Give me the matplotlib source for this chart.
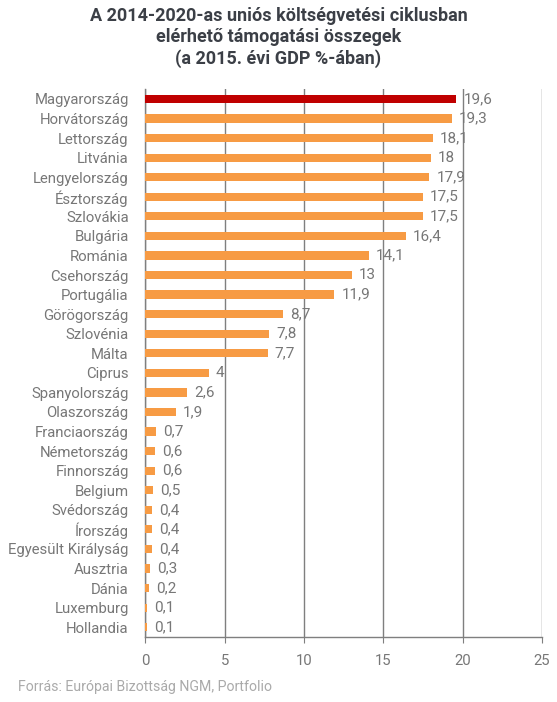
import matplotlib
matplotlib.use("Agg")
import matplotlib.pyplot as plt

orszagok = ["Magyarország", "Horvátország", "Lettország", "Litvánia", "Lengyelország",
            "Észtország", "Szlovákia", "Bulgária", "Románia", "Csehország", "Portugália",
            "Görögország", "Szlovénia", "Málta", "Ciprus", "Spanyolország", "Olaszország",
            "Franciaország", "Németország", "Finnország", "Belgium", "Svédország",
            "Írország", "Egyesült Királyság", "Ausztria", "Dánia", "Luxemburg", "Hollandia"]
ertekek = [19.6, 19.3, 18.1, 18, 17.9, 17.5, 17.5, 16.4, 14.1, 13, 11.9, 8.7, 7.8, 7.7,
           4, 2.6, 1.9, 0.7, 0.6, 0.6, 0.5, 0.4, 0.4, 0.4, 0.3, 0.2, 0.1, 0.1]
x_ticks = [0, 5, 10, 15, 20, 25]

plt.rcParams["font.family"] = ["Roboto", "DejaVu Sans"]

PIROS = "#C00000"
NARANCS = "#F79B44"
SZURKE = "#7f7f7f"
TEXT = "#777777"

fig = plt.figure(figsize=(5.57, 7.02), dpi=100)
ax = fig.add_axes([0.261, 0.0926, 0.712, 0.7804])

szinek = [PIROS] + [NARANCS] * (len(ertekek) - 1)
y = list(range(len(ertekek)))
ax.barh(y, ertekek, height=0.42, color=szinek, zorder=3)

for yi, v in zip(y, ertekek):
    ax.text(v + 0.45, yi, f"{v:g}".replace(".", ","), va="center", ha="left",
            color=TEXT, fontsize=11, zorder=4)

ax.set_ylim(len(ertekek) - 0.5, -0.5)
ax.set_xlim(0, 25)
ax.set_yticks(y)
ax.set_yticklabels(orszagok, color=TEXT, fontsize=10.7)
ax.set_xticks(x_ticks)
ax.set_xticklabels([str(t) for t in x_ticks], color=TEXT, fontsize=10.7)
ax.tick_params(axis="y", length=0, pad=12)
ax.tick_params(axis="x", length=4, color=SZURKE, pad=8)
ax.grid(axis="x", color=SZURKE, linewidth=1, zorder=0)
for s in ["top", "right"]:
    ax.spines[s].set_visible(False)
for s in ["left", "bottom"]:
    ax.spines[s].set_color(SZURKE)
    ax.spines[s].set_linewidth(1)

fig.text(0.5, 0.99, "A 2014-2020-as uniós költségvetési ciklusban\nelérhető támogatási összegek\n(a 2015. évi GDP %-ában)",
         ha="center", va="top", fontsize=13, fontweight="bold", color="#3b3f46", linespacing=1.2)
fig.text(0.032, 0.022, "Forrás: Európai Bizottság NGM, Portfolio", ha="left", va="center",
         fontsize=10.2, color="#aaaaaa")

fig.savefig("out.png", dpi=100)
